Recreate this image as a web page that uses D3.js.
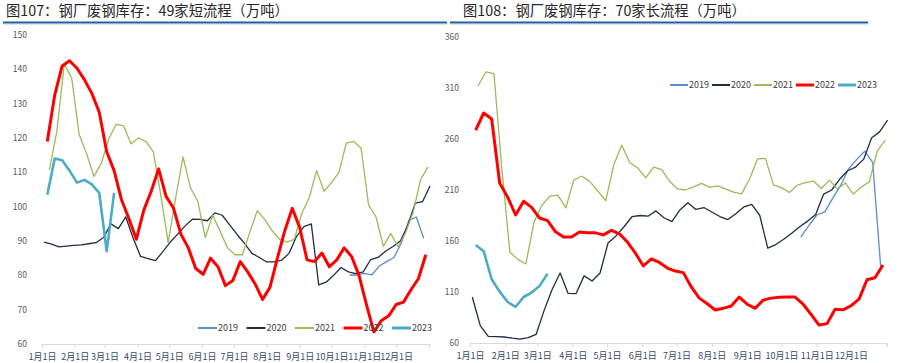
<!DOCTYPE html>
<html>
<head>
<meta charset="utf-8">
<script src="https://cdn.jsdelivr.net/npm/d3@7/dist/d3.min.js"></script>
<style>
  body { margin: 0; background: #fff; }
  text { font-family: "Noto Sans CJK SC", "Noto Sans", sans-serif; }
</style>
</head>
<body>
<svg id="canvas" width="900" height="363"></svg>
<script>
// years, colours and widths of the five series
const years = ["2019", "2020", "2021", "2022", "2023"];
const colors = ["#5b8bd0", "#1f2d45", "#9bbb59", "#ff0000", "#4bacc6"];
const widths = [1.3, 1.3, 1.3, 3, 2.6];
// first weekly reading of each year, day of year
const startDays = [290, 2, 7, 5, 5];

const monthLabels = ["1月1日", "2月1日", "3月1日", "4月1日", "5月1日", "6月1日",
  "7月1日", "8月1日", "9月1日", "10月1日", "11月1日", "12月1日"];
const monthDays = [0, 31, 59, 90, 120, 151, 181, 212, 243, 273, 304, 334];

// 49 short-process mills, weekly, 10k t
const short2019 = [80.1, 80.1, 80.6, 80.1, 82.7, 84, 85.2, 89.5, 96, 97, 90.8];
const short2020 = [89.7, 89.1, 88.3, 88.5, 88.7, 88.9, 89.2, 89.5, 91, 95, 93.6, 97, 90.8,
  85.5, 84.9, 84.3, 86.9, 89.7, 92, 94.4, 96.4, 96.3, 95.9, 98.2, 97.5, 94.7, 91.9, 89.3,
  86.4, 85.2, 83.9, 83.9, 84.4, 86.4, 91.3, 94.2, 95, 77.2, 78, 80, 82.3, 81, 80.5, 81,
  84.6, 85.2, 87, 88.4, 90, 94.5, 101, 101.5, 106];
const short2021 = [110.7, 122, 141.5, 137.5, 121, 115.5, 108.8, 112.7, 119.8, 124, 123.5,
  118.3, 120, 119, 116, 103.5, 89.5, 102.5, 114.5, 105.5, 101.5, 91, 97.5, 92.8, 88, 86,
  86, 92.5, 98.8, 96.3, 93, 90.5, 89.7, 90.5, 98, 102.6, 110.5, 104.5, 107, 110, 118.5,
  119, 117, 100.5, 97, 88.5, 92.2, 88.2, 92.5, 98.3, 107.8, 111.6];
const short2022 = [119, 132.5, 141, 142.5, 140.3, 137, 133, 127.5, 116, 110.5, 102, 96.5,
  90.5, 99, 104.5, 111, 103, 99.6, 92, 88, 82, 80.3, 85, 82.5, 77, 78.5, 84, 81, 77.5, 73,
  76.5, 85, 93, 99.5, 94, 84.5, 84, 86.5, 82.5, 84.5, 88, 85.5, 80, 71.5, 63.5, 66.8,
  68.2, 71.5, 72.2, 75.8, 79, 86];
const short2023 = [103.5, 114, 113.5, 110.5, 107, 107.8, 106.5, 104, 87, 104];

// 70 long-process mills, weekly, 10k t
const long2019 = [163.9, 175, 185.5, 188.5, 202, 214.7, 231, 240, 248, 237, 134.5];
const long2020 = [105.1, 77, 66.5, 66.2, 65.9, 64.8, 63.9, 65.2, 68.5, 92, 112.5, 128.6,
  108.6, 108.5, 125.8, 120.8, 128.6, 158, 165, 174, 183.8, 185, 184.3, 189.5, 182.8, 179,
  190.4, 197.5, 191, 192.8, 188.4, 184, 181, 186.8, 193.4, 195.8, 185, 153, 156.5, 161.8,
  167.6, 174, 179.5, 186, 206, 210, 220.5, 228.9, 232.5, 240, 261, 267, 278.6];
const long2021 = [312, 325.7, 324, 230, 149, 142, 137.5, 178, 195, 204, 205, 192.4, 219.8,
  223.5, 218.5, 209, 199.5, 234.5, 254, 237, 231.6, 221.8, 232.4, 230, 218.5, 211, 210,
  213, 216.5, 212.5, 214, 211, 208, 206.2, 220.6, 240.5, 241, 215, 212.3, 207.6, 214.9,
  217.2, 218.8, 211.5, 219.7, 211, 216.9, 206, 213, 218, 248, 259];
const long2022 = [268.8, 285.5, 279.6, 216.9, 203, 185.5, 199, 193, 182.5, 180, 169, 164,
  164, 168.8, 168, 168, 166, 170.5, 167, 159, 148, 135.5, 142.4, 139, 133.5, 130.5, 129,
  115, 104, 98.5, 92.4, 94, 96.3, 105, 98, 94, 102, 104, 104.8, 105.1, 105, 98, 88, 77.6,
  79, 93, 92.5, 96.5, 103, 122, 124, 136.5];
const long2023 = [156, 150, 122.5, 110.4, 100.2, 95.5, 105.1, 109.5, 116, 128];

const shortSeries = [short2019, short2020, short2021, short2022, short2023];
const longSeries = [long2019, long2020, long2021, long2022, long2023];

let canvas = d3.select("#canvas");

const drawPanel = (panel) => {
  let g = canvas.append("g");

  // title and the blue rule under it
  g.append("text")
    .attr("x", panel.titleX)
    .attr("y", 16)
    .attr("font-size", 14.3)
    .attr("fill", "#262626")
    .text(panel.title);
  g.append("line")
    .attr("x1", panel.ruleX[0]).attr("x2", panel.ruleX[1])
    .attr("y1", 22.5).attr("y2", 22.5)
    .attr("stroke", "#1f5fa8").attr("stroke-width", 2);
  g.append("line")
    .attr("x1", panel.ruleX[0]).attr("x2", panel.ruleX[1])
    .attr("y1", 24.5).attr("y2", 24.5)
    .attr("stroke", "#e4e4e4").attr("stroke-width", 1);

  const x = d3.scaleLinear().domain([0, 365]).range(panel.xRange);
  const y = d3.scaleLinear().domain(panel.yDomain).range(panel.yRange);

  // y labels, no axis line
  g.selectAll(".ylab")
    .data(panel.yTicks)
    .enter()
    .append("text")
    .attr("class", "ylab")
    .attr("x", panel.yLabelX)
    .attr("y", (d) => y(d))
    .attr("dy", "0.35em")
    .attr("text-anchor", "end")
    .attr("font-size", 8.5)
    .attr("fill", "#595959")
    .text((d) => d);

  // x axis on month starts
  let xAxis = d3.axisBottom(x)
    .tickValues(monthDays.concat([365]))
    .tickSize(4)
    .tickFormat((d, i) => monthLabels[i] || "");
  let ax = g.append("g")
    .attr("transform", "translate(0," + panel.yRange[0] + ")")
    .call(xAxis);
  ax.select(".domain").attr("stroke", "#d9d9d9");
  ax.selectAll(".tick line").attr("stroke", "#d9d9d9");
  ax.selectAll(".tick text")
    .attr("font-size", 9)
    .attr("fill", "#3a4a63")
    .attr("dy", "0.95em");

  const line = d3.line()
    .x((d) => x(d[0]))
    .y((d) => y(d[1]));

  // draw 2019 first, 2022 and 2023 on top
  [0, 1, 2, 3, 4].forEach((k) => {
    let pts = panel.series[k].map((v, i) => [startDays[k] + i * 7, v]);
    g.append("path")
      .datum(pts)
      .attr("fill", "none")
      .attr("stroke", colors[k])
      .attr("stroke-width", widths[k])
      .attr("stroke-linejoin", "round")
      .attr("d", line);
  });

  // legend
  let item = g.selectAll(".legend-item")
    .data(years)
    .enter()
    .append("g")
    .attr("class", "legend-item")
    .attr("transform", (d, i) =>
      "translate(" + (panel.legendX + i * panel.legendStep) + "," + panel.legendY + ")");
  item.append("line")
    .attr("x1", 0).attr("x2", panel.legendLine)
    .attr("stroke", (d, i) => colors[i])
    .attr("stroke-width", (d, i) => (i >= 3 ? 3 : 2));
  item.append("text")
    .attr("x", panel.legendLine + 1)
    .attr("dy", "0.35em")
    .attr("font-size", 9)
    .attr("fill", "#404040")
    .text((d) => d);
};

drawPanel({
  title: "图107：钢厂废钢库存：49家短流程（万吨）",
  titleX: 6,
  ruleX: [3, 447],
  xRange: [42, 429],
  yDomain: [60, 150],
  yRange: [344, 35],
  yTicks: d3.range(60, 151, 10),
  yLabelX: 27,
  series: shortSeries,
  legendX: 198,
  legendStep: 48.5,
  legendY: 328,
  legendLine: 19
});

drawPanel({
  title: "图108：钢厂废钢库存：70家长流程（万吨）",
  titleX: 463,
  ruleX: [450, 868],
  xRange: [470, 886.4],
  yDomain: [60, 360],
  yRange: [343, 37],
  yTicks: d3.range(60, 361, 50),
  yLabelX: 459,
  series: longSeries,
  legendX: 670,
  legendStep: 42,
  legendY: 85,
  legendLine: 18
});
</script>
</body>
</html>
